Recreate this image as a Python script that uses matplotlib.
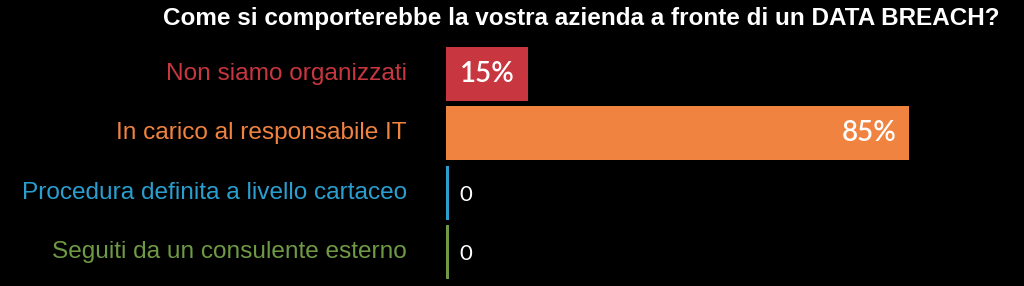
import matplotlib.pyplot as plt

# dati
categorie = ['Non siamo organizzati', 'In carico al responsabile IT',
             'Procedura definita a livello cartaceo', 'Seguiti da un consulente esterno']
valori = [15, 85, 0, 0]
etichette = ['15%', '85%', '0', '0']
colori = ['#C8363F', '#F08340', '#2A9FCF', '#6F9A45']

fig = plt.figure(figsize=(10.24, 2.86), dpi=100, facecolor='black')
ax = fig.add_axes([446/1024, 4/286, 545/1024, 238/286], facecolor='black')

y = range(len(categorie))
larghezze = [v if v > 0 else 0.55 for v in valori]
ax.barh(y, larghezze, height=0.9, color=colori)
ax.set_xlim(0, 100)
ax.set_ylim(3.5, -0.5)
ax.axis('off')

for i, (v, lab) in enumerate(zip(valori, etichette)):
    if v > 0:
        ax.text(v - 2.4, i, lab, ha='right', va='center', color='white',
                fontsize=20, fontfamily='Lato', fontweight='semibold')
    else:
        ax.text(2.5, i + 0.03, lab, ha='left', va='center', color='white',
                fontsize=16, fontfamily='Lato')
    ax.text(-7.2, i, categorie[i], ha='right', va='center', color=colori[i],
            fontsize=17.6, fontfamily='Liberation Sans')

fig.text(581/1024, 1 - 18/286, 'Come si comporterebbe la vostra azienda a fronte di un DATA BREACH?',
         ha='center', va='center', color='white', fontsize=17.5, fontweight='bold',
         fontfamily=['Liberation Sans Narrow', 'Liberation Sans'])

plt.savefig('out.png', dpi=100, facecolor='black')
